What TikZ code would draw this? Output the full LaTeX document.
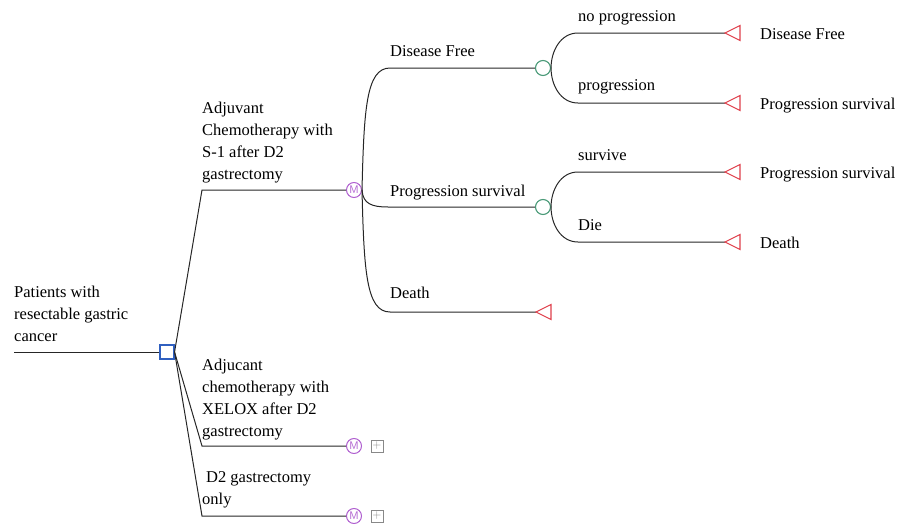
\documentclass[tikz,border=0pt]{standalone}
\usepackage{fontspec}
\setmainfont{Liberation Serif}
\definecolor{mgreen}{HTML}{4A9A78}
\definecolor{mpurple}{HTML}{B060D0}
\definecolor{mblue}{HTML}{3060C0}
\definecolor{mred}{HTML}{E0404C}
\definecolor{mgray}{HTML}{888888}
\begin{document}
\begin{tikzpicture}[x=1pt,y=-1pt,
  lbl/.style={anchor=base west, inner sep=0pt, font=\fontsize{16.5}{22}\selectfont, align=left},
  edge/.style={draw=black!85, line width=1pt},
  decsq/.style={draw=mblue, line width=1.1pt, minimum size=14pt, inner sep=0pt, fill=white},
  chn/.style={circle, draw=mgreen, line width=1.1pt, minimum size=15pt, inner sep=0pt, fill=white},
  mnode/.style={circle, draw=mpurple, line width=1pt, minimum size=15pt, inner sep=0pt, text=mpurple, font=\sffamily\fontsize{11}{11}\selectfont, fill=white},
  plusbox/.style={draw=mgray, line width=0.8pt, minimum size=12pt, inner sep=0pt, text=mgray, font=\sffamily\fontsize{12}{12}\selectfont},
  term/.style={draw=mred, line width=1.1pt, fill=white}
]
\useasboundingbox (0,0) rectangle (898,525);

% root
\coordinate (r0) at (14,352);
\node[decsq] (dec) at (167,352) {};
\draw[edge] (r0) -- (dec.west);
\node[lbl] (lroot) at (14,341) {Patients with\\resectable gastric\\cancer};

% strategy branches
\coordinate (b1) at (202,190);
\coordinate (b2) at (202,446);
\coordinate (b3) at (202,516);
\node[mnode] (m1) at (354,190) {M};
\node[mnode] (m2) at (354,446) {M};
\node[mnode] (m3) at (354,516) {M};
\node[plusbox] (p2) at (377,446) {+};
\node[plusbox] (p3) at (377,516) {+};
\draw[edge] (dec.east) -- (b1) -- (m1.west);
\draw[edge] (dec.east) -- (b2) -- (m2.west);
\draw[edge] (dec.east) -- (b3) -- (m3.west);
\node[lbl] (l1) at (202,179) {Adjuvant\\Chemotherapy with\\S-1 after D2\\gastrectomy};
\node[lbl] (l2) at (202,436) {Adjucant\\chemotherapy with\\XELOX after D2\\gastrectomy};
\node[lbl] (l3) at (202,504) {\hspace*{4pt}D2 gastrectomy\\only};

% Markov states
\coordinate (d1) at (390,68);
\coordinate (d2) at (388,207);
\coordinate (d3) at (390,312);
\node[chn] (c1) at (543,68) {};
\node[chn] (c2) at (543,207) {};
\coordinate (t3) at (536,312);
\draw[edge] (m1.east) .. controls (364,110) and (366,68) .. (d1) -- (c1.west);
\draw[edge] (m1.east) .. controls (363,204) and (372,207) .. (d2) -- (c2.west);
\draw[edge] (m1.east) .. controls (364,270) and (366,312) .. (d3) -- (t3);
\draw[term] (t3) -- ++(15,-7.5) -- ++(0,15) -- cycle;
\node[lbl] (s1) at (390,56) {Disease Free};
\node[lbl] (s2) at (390,196) {Progression survival};
\node[lbl] (s3) at (390,298) {Death};

% transitions
\coordinate (e1) at (578,33);
\coordinate (e2) at (578,103);
\coordinate (e3) at (578,172);
\coordinate (e4) at (578,242);
\coordinate (t11) at (725,33);
\coordinate (t12) at (725,103);
\coordinate (t21) at (725,172);
\coordinate (t22) at (725,242);
\draw[edge] (c1.east) to[out=90,in=180] (e1) -- (t11);
\draw[edge] (c1.east) to[out=-90,in=180] (e2) -- (t12);
\draw[edge] (c2.east) to[out=90,in=180] (e3) -- (t21);
\draw[edge] (c2.east) to[out=-90,in=180] (e4) -- (t22);
\draw[term] (t11) -- ++(15,-7.5) -- ++(0,15) -- cycle;
\draw[term] (t12) -- ++(15,-7.5) -- ++(0,15) -- cycle;
\draw[term] (t21) -- ++(15,-7.5) -- ++(0,15) -- cycle;
\draw[term] (t22) -- ++(15,-7.5) -- ++(0,15) -- cycle;
\node[lbl] (tr1) at (578,21) {no progression};
\node[lbl] (tr2) at (578,90) {progression};
\node[lbl] (tr3) at (578,160) {survive};
\node[lbl] (tr4) at (578,230) {Die};
\node[lbl] (o1) at (760,39) {Disease Free};
\node[lbl] (o2) at (760,109) {Progression survival};
\node[lbl] (o3) at (760,178) {Progression survival};
\node[lbl] (o4) at (760,248) {Death};
\end{tikzpicture}
\end{document}
